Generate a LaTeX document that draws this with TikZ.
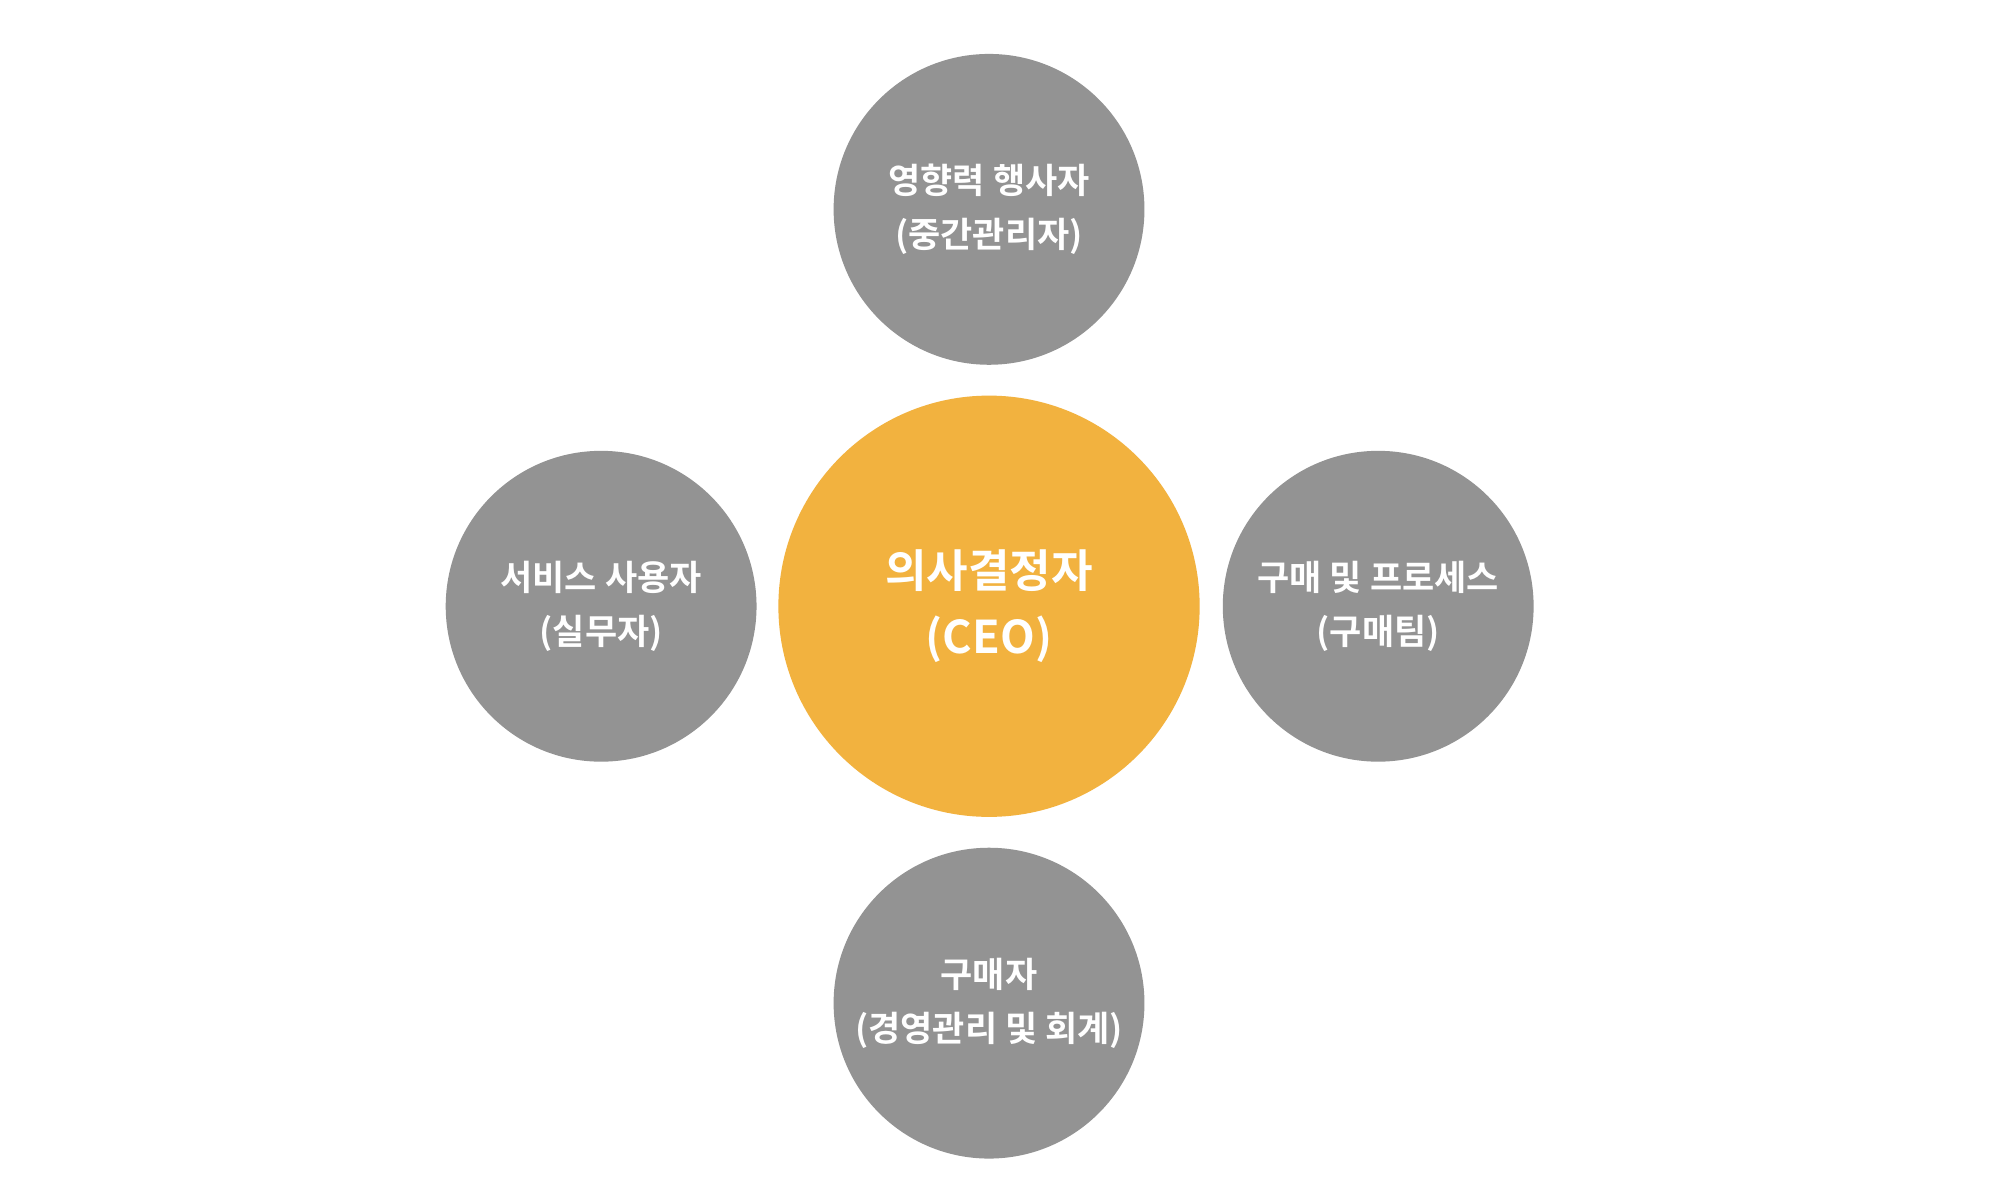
\documentclass[tikz,border=0pt]{standalone}
\usepackage{fontspec}
\newfontfamily\kr{Noto Sans CJK KR}[BoldFont={Noto Sans CJK KR Bold}]
\definecolor{gcirc}{HTML}{939393}
\definecolor{ocirc}{HTML}{F2B23F}
\begin{document}
\begin{tikzpicture}[x=0.02cm,y=-0.02cm,
  gnode/.style={circle,fill=gcirc,minimum size=242*0.02cm,inner sep=0pt,text=white,font=\kr\bfseries\fontsize{15.5}{24}\selectfont,align=center},
  onode/.style={circle,fill=ocirc,minimum size=328*0.02cm,inner sep=0pt,text=white,font=\kr\bfseries\fontsize{20}{29}\selectfont,align=center}]
\fill[white] (0,0) rectangle (1568,918);
\useasboundingbox (0,0) rectangle (1568,918);
\node[onode] (ceo) at (770,472) {의사결정자\\(CEO)};
\node[gnode] (top) at (770,163) {영향력 행사자\\(중간관리자)};
\node[gnode] (left) at (468,472) {서비스 사용자\\(실무자)};
\node[gnode] (right) at (1073,472) {구매 및 프로세스\\(구매팀)};
\node[gnode] (bot) at (770,781) {구매자\\(경영관리 및 회계)};
\end{tikzpicture}
\end{document}
